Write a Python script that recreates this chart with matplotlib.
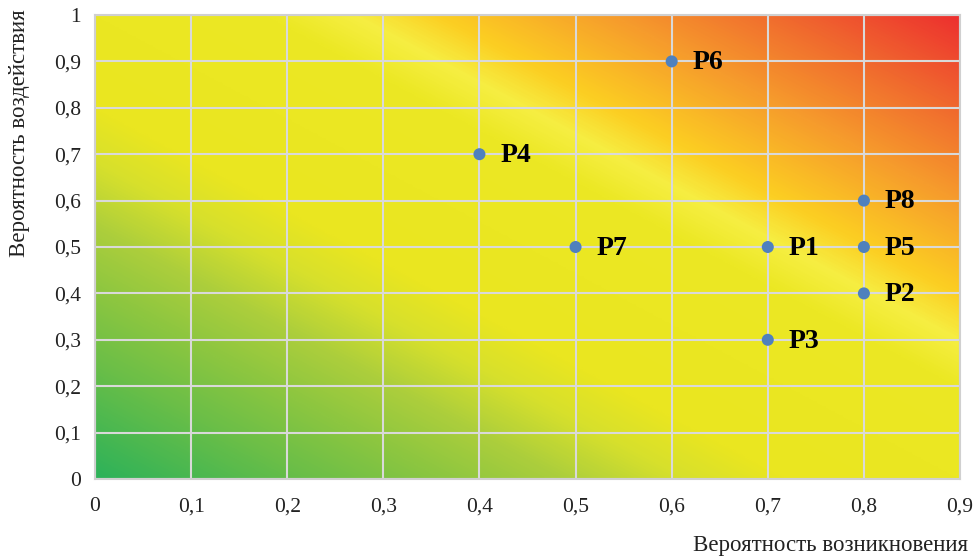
import numpy as np
import matplotlib
matplotlib.use("Agg")
import matplotlib.pyplot as plt
from matplotlib.colors import LinearSegmentedColormap

# Data
labels = ["P1", "P2", "P3", "P4", "P5", "P6", "P7", "P8"]
x_vals = [0.7, 0.8, 0.7, 0.4, 0.8, 0.6, 0.5, 0.8]
y_vals = [0.5, 0.4, 0.3, 0.7, 0.5, 0.9, 0.5, 0.6]
x_ticks = [0, 0.1, 0.2, 0.3, 0.4, 0.5, 0.6, 0.7, 0.8, 0.9]
y_ticks = [0, 0.1, 0.2, 0.3, 0.4, 0.5, 0.6, 0.7, 0.8, 0.9, 1.0]
x_label = "Вероятность возникновения"
y_label = "Вероятность воздействия"

def fmt(v):
    s = ("%g" % v).replace(".", ",")
    return s

fig = plt.figure(figsize=(9.73, 5.58), dpi=100)
ax = fig.add_axes([95/973, 1-479/558, (960-95)/973, (479-15)/558])

# Background gradient
stops = [
    (0.00, (45, 178, 90)),
    (0.06, (75, 184, 80)),
    (0.12, (105, 190, 72)),
    (0.20, (140, 198, 64)),
    (0.27, (172, 206, 60)),
    (0.34, (215, 224, 44)),
    (0.40, (234, 230, 32)),
    (0.60, (236, 232, 36)),
    (0.65, (246, 238, 66)),
    (0.70, (252, 206, 34)),
    (0.80, (246, 156, 44)),
    (0.90, (240, 104, 46)),
    (1.00, (237, 48, 46)),
]
cmap = LinearSegmentedColormap.from_list(
    "risk", [(p, tuple(c/255 for c in col)) for p, col in stops])
n = 400
u = np.linspace(0, 1, n)
v = np.linspace(0, 1, n)
U, V = np.meshgrid(u, v)
T = (U + V) / 2
ax.imshow(T, cmap=cmap, extent=[0, 0.9, 0, 1], origin="lower",
          aspect="auto", zorder=0, vmin=0, vmax=1, interpolation="bilinear")

ax.set_xlim(0, 0.9)
ax.set_ylim(0, 1)
ax.set_xticks(x_ticks)
ax.set_yticks(y_ticks)
serif = ["Liberation Serif", "DejaVu Serif"]
ax.set_xticklabels([fmt(t) for t in x_ticks], family=serif, fontsize=15.5)
ax.set_yticklabels([fmt(t) for t in y_ticks], family=serif, fontsize=15.5)
ax.tick_params(axis="x", length=0, pad=13, colors="#222222")
ax.tick_params(axis="y", length=0, pad=10, colors="#222222")
ax.grid(True, color="#D9D9D9", linewidth=1.5, zorder=1)
for s in ax.spines.values():
    s.set_color("#D0D0D0")
    s.set_linewidth(1.5)

ax.scatter(x_vals, y_vals, s=75, color="#4F81BD", zorder=3, edgecolors="none")
for lab, xv, yv in zip(labels, x_vals, y_vals):
    ax.annotate(lab, (xv, yv), xytext=(15, -1), textcoords="offset points",
                ha="left", va="center", family=serif, fontweight="bold",
                fontsize=20, color="black", zorder=4)

fig.text(968/973, 1-545/558, x_label, ha="right", va="center",
         family=serif, fontsize=16.5, color="#222222")
fig.text(20/973, 1-133/558, y_label, ha="center", va="center", rotation=90,
         family=serif, fontsize=16.5, color="#222222")

fig.savefig("out.png", dpi=100)
